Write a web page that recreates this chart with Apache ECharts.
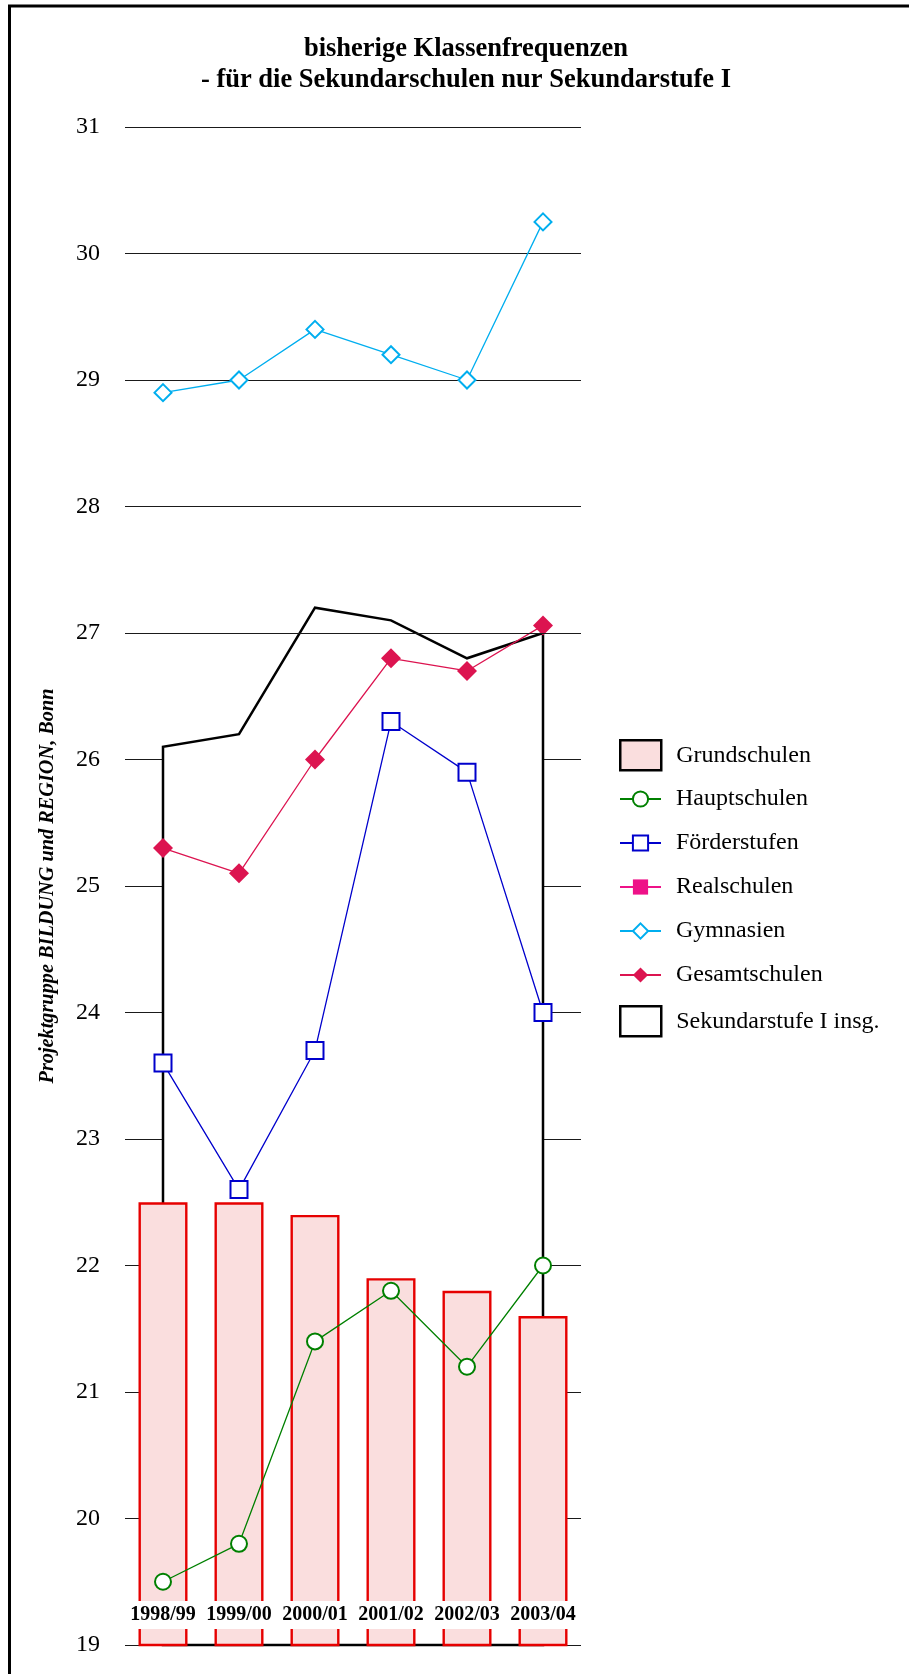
<!DOCTYPE html>
<html>
<head>
<meta charset="utf-8">
<script src="https://cdn.jsdelivr.net/npm/echarts@6/dist/echarts.min.js"></script>
<style>
html,body{margin:0;padding:0;background:#fff;}
#chart{width:909px;height:1674px;}
</style>
</head>
<body>
<div id="chart"></div>
<script>
// ---- data ----
const categories = ['1998/99', '1999/00', '2000/01', '2001/02', '2002/03', '2003/04'];
const grundschulen = [22.5, 22.5, 22.4, 21.9, 21.8, 21.6];
const hauptschulen = [19.5, 19.8, 21.4, 21.8, 21.2, 22.0];
const foerderstufen = [23.6, 22.6, 23.7, 26.3, 25.9, 24.0];
const realschulen = [null, null, null, null, null, null];
const gymnasien = [28.9, 29.0, 29.4, 29.2, 29.0, 30.25];
const gesamtschulen = [25.3, 25.1, 26.0, 26.8, 26.7, 27.06];
const sekundarstufe = [26.1, 26.2, 27.2, 27.1, 26.8, 27.0];
const yMin = 19, yMax = 31, yInterval = 1;

const serif = "'Liberation Serif', 'DejaVu Serif', serif";
const chart = echarts.init(document.getElementById('chart'), null, {renderer: 'canvas'});

const option = {
  animation: false,
  backgroundColor: '#fff',
  title: {
    text: 'bisherige Klassenfrequenzen\n- für die Sekundarschulen nur Sekundarstufe I',
    left: 466,
    textAlign: 'center',
    top: 34,
    padding: 0,
    textStyle: {fontFamily: serif, fontWeight: 'bold', fontSize: 26.5, lineHeight: 31, color: '#000'}
  },
  graphic: [
    {type: 'rect', shape: {x: 9.5, y: 6, width: 1000, height: 1800}, style: {fill: 'none', stroke: '#000', lineWidth: 3}, silent: true, z: 100},
    {type: 'text', x: 48, y: 886, rotation: Math.PI / 2,
     style: {text: 'Projektgruppe BILDUNG und REGION, Bonn', fontFamily: serif, fontStyle: 'italic', fontWeight: 'bold', fontSize: 20.3, fill: '#000', align: 'center', verticalAlign: 'middle'}}
  ],
  legend: [
    {
      left: 614, top: 734, orient: 'vertical', itemWidth: 41, itemHeight: 30,
      textStyle: {fontFamily: serif, fontSize: 24, color: '#000', padding: [0, 0, 0, 10]},
      data: [{name: 'Grundschulen', icon: 'rect', itemStyle: {color: '#FADEDE', borderColor: '#000', borderWidth: 2.5}}]
    },
    {
      left: 614, top: 782, orient: 'vertical', itemWidth: 41, itemHeight: 19, itemGap: 20,
      textStyle: {fontFamily: serif, fontSize: 24, lineHeight: 24, color: '#000', padding: [0, 0, 0, 10]},
      data: ['Hauptschulen', 'Förderstufen', 'Realschulen', 'Gymnasien', 'Gesamtschulen']
    },
    {
      left: 614, top: 1000, orient: 'vertical', itemWidth: 41, itemHeight: 30,
      textStyle: {fontFamily: serif, fontSize: 24, color: '#000', padding: [0, 0, 0, 10]},
      data: [{name: 'Sekundarstufe I insg.', icon: 'rect', itemStyle: {color: '#fff', borderColor: '#000', borderWidth: 2.5}}]
    }
  ],
  grid: {left: 125, right: 328, top: 127, bottom: 29, containLabel: false},
  xAxis: {
    type: 'category',
    data: categories,
    z: 10,
    axisLine: {show: false},
    axisTick: {show: false},
    axisLabel: {
      interval: 0,
      inside: true, margin: 16,
      fontFamily: serif, fontWeight: 'bold', fontSize: 20, color: '#000',
      backgroundColor: '#fff', padding: [4, 1, 4, 1]
    }
  },
  yAxis: {
    type: 'value', min: yMin, max: yMax, interval: yInterval,
    axisLine: {show: false},
    axisTick: {show: false},
    axisLabel: {margin: 25, fontFamily: serif, fontSize: 24, color: '#000'},
    splitLine: {show: true, lineStyle: {color: '#1a1a1a', width: 1}}
  },
  series: [
    {
      type: 'custom', name: 'Sekundarstufe I insg.', z: 1,
      data: sekundarstufe.map((v, i) => [i, v]),
      encode: {x: 0, y: 1},
      itemStyle: {color: '#fff', borderColor: '#000'},
      renderItem: function (params, api) {
        if (params.dataIndex !== 0) return null;
        const pts = [api.coord([0, yMin])];
        for (let i = 0; i < sekundarstufe.length; i++) pts.push(api.coord([i, sekundarstufe[i]]));
        pts.push(api.coord([sekundarstufe.length - 1, yMin]));
        return {type: 'polygon', shape: {points: pts}, style: {fill: '#fff', stroke: '#000', lineWidth: 2.5, lineJoin: 'miter'}};
      },
      markLine: {
        silent: true, symbol: 'none', label: {show: false},
        lineStyle: {color: '#1a1a1a', width: 1, type: 'solid'},
        data: [{yAxis: 27}]
      }
    },
    {
      type: 'bar', name: 'Grundschulen', data: grundschulen, barWidth: 49, z: 2,
      itemStyle: {color: '#FADEDE', borderColor: '#E60000', borderWidth: 2.4}
    },
    {
      type: 'line', name: 'Hauptschulen', data: hauptschulen, z: 3,
      symbol: 'emptyCircle', symbolSize: 16,
      itemStyle: {color: '#008000', borderWidth: 2.5},
      lineStyle: {color: '#008000', width: 1.3}
    },
    {
      type: 'line', name: 'Förderstufen', data: foerderstufen, z: 3,
      symbol: 'emptyRect', symbolSize: 17,
      itemStyle: {color: '#0000CC', borderWidth: 2.5},
      lineStyle: {color: '#0000CC', width: 1.3}
    },
    {
      type: 'line', name: 'Realschulen', data: realschulen, z: 3,
      symbol: 'rect', symbolSize: 17,
      itemStyle: {color: '#EE1188'},
      lineStyle: {color: '#EE1188', width: 1.3}
    },
    {
      type: 'line', name: 'Gymnasien', data: gymnasien, z: 3,
      symbol: 'emptyDiamond', symbolSize: 17,
      itemStyle: {color: '#00AEEF', borderWidth: 2.5},
      lineStyle: {color: '#00AEEF', width: 1.3}
    },
    {
      type: 'line', name: 'Gesamtschulen', data: gesamtschulen, z: 3,
      symbol: 'diamond', symbolSize: 20,
      itemStyle: {color: '#DC1450'},
      lineStyle: {color: '#DC1450', width: 1.3}
    }
  ]
};
chart.setOption(option);
</script>
</body>
</html>
